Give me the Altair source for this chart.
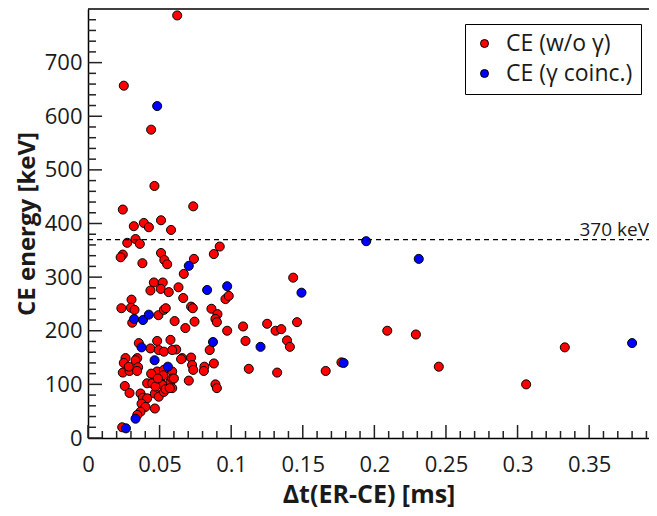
import altair as alt
import pandas as pd

# ---- data ----
red_x = [0.0623, 0.025, 0.0441, 0.0464, 0.0243, 0.0735, 0.032, 0.039, 0.0425, 0.051,
         0.058, 0.0274, 0.0332, 0.0362, 0.0243, 0.0228, 0.038, 0.051, 0.0533, 0.0553,
         0.074, 0.0669, 0.0879, 0.092, 0.1433, 0.046, 0.0522, 0.0436, 0.0508, 0.0564,
         0.0632, 0.0665, 0.096, 0.0983, 0.0304, 0.0233, 0.030, 0.0325, 0.0309, 0.0492,
         0.053, 0.0543, 0.0605, 0.072, 0.0732, 0.068, 0.0744, 0.0862, 0.0904, 0.089,
         0.090, 0.0972, 0.1083, 0.110, 0.1251, 0.131, 0.135, 0.146, 0.139, 0.141,
         0.085, 0.209, 0.229, 0.333, 0.0879, 0.0813, 0.0809, 0.1123, 0.1321, 0.166,
         0.177, 0.245, 0.306, 0.089, 0.090, 0.0704, 0.0658, 0.072, 0.0727, 0.0735,
         0.0616, 0.0576, 0.0483, 0.0436, 0.0355, 0.0494, 0.053, 0.0588, 0.0262, 0.0344,
         0.025, 0.0332, 0.035, 0.0243, 0.029, 0.0343, 0.0448, 0.0483, 0.053, 0.0588,
         0.0413, 0.0448, 0.0506, 0.0576, 0.0257, 0.029, 0.0367, 0.0383, 0.0413, 0.0467,
         0.0494, 0.053, 0.0374, 0.0401, 0.0467, 0.0367, 0.0344, 0.0239, 0.0588, 0.0588,
         0.060, 0.0518, 0.0541, 0.0571, 0.0471, 0.065, 0.0285, 0.0441, 0.0525, 0.0488]
red_y = [788, 657, 575, 470, 426, 432, 395, 401, 393, 406,
         388, 364, 371, 362, 342, 337, 326, 345, 332, 324,
         334, 306, 343, 357, 299, 290, 290, 275, 278, 272,
         281, 261, 259, 265, 258, 242, 243, 239, 215, 229,
         239, 242, 218, 245, 242, 205, 217, 241, 231, 222,
         216, 200, 208, 181, 213, 200, 203, 216, 182, 170,
         164, 200, 193, 169, 139, 133, 125, 129, 122, 125,
         141, 133, 100, 100, 93, 107, 149, 150, 136, 127,
         165, 183, 181, 167, 177, 164, 161, 164, 149, 149,
         140, 145, 132, 122, 125, 125, 119, 124, 127, 124,
         102, 102, 105, 105, 97, 84, 83, 75, 74, 83,
         77, 86, 64, 58, 55, 49, 43, 20, 111, 93,
         111, 99, 91, 93, 96, 147, 133, 120, 117, 111]

blue_x = [0.0483, 0.0704, 0.1943, 0.231, 0.0832, 0.0972, 0.1491, 0.0322, 0.0384, 0.0425,
          0.0873, 0.1205, 0.1785, 0.0374, 0.0465, 0.0558, 0.0332, 0.0265, 0.380]
blue_y = [619, 321, 367, 334, 276, 283, 271, 222, 220, 230,
          179, 170, 140, 169, 145, 133, 36, 18, 177]

series_names = ["CE (w/o γ)", "CE (γ coinc.)"]
series_colors = ["#ff0000", "#0000ff"]

threshold_value = [370]
threshold_label = ["370 keV"]

x_domain = [0, 0.3918]
y_domain = [0, 800]
x_major = [0, 0.05, 0.1, 0.15, 0.2, 0.25, 0.3, 0.35]
x_minor = [0.01, 0.02, 0.03, 0.04, 0.06, 0.07, 0.08, 0.09, 0.11, 0.12, 0.13, 0.14,
           0.16, 0.17, 0.18, 0.19, 0.21, 0.22, 0.23, 0.24, 0.26, 0.27, 0.28, 0.29,
           0.31, 0.32, 0.33, 0.34, 0.36, 0.37, 0.38, 0.39]
y_major = [0, 100, 200, 300, 400, 500, 600, 700]
y_minor = [20, 40, 60, 80, 120, 140, 160, 180, 220, 240, 260, 280, 320, 340, 360, 380,
           420, 440, 460, 480, 520, 540, 560, 580, 620, 640, 660, 680, 720, 740, 760, 780]

# ---- layout / style ----
W, H = 561, 429
FONT = "Open Sans"
TXT = "#1a1a1a"

xscale = alt.Scale(domain=x_domain, nice=False, zero=False)
yscale = alt.Scale(domain=y_domain, nice=False, zero=False)

points = pd.DataFrame({
    "x": red_x + blue_x,
    "y": red_y + blue_y,
    "series": [series_names[0]] * len(red_x) + [series_names[1]] * len(blue_x),
})

xaxis = alt.Axis(values=x_major, format="~g", tickSize=0, grid=False,
                 labelFontSize=22, labelFont=FONT, labelColor=TXT,
                 labelPadding=33, labelBaseline="alphabetic", labelFlush=False,
                 labelOverlap=False, domainColor="black", domainWidth=1.5,
                 title="Δt(ER-CE) [ms]", titleFont=FONT, titleFontSize=25,
                 titleFontWeight="bold", titleColor=TXT, titleY=64,
                 titleBaseline="alphabetic")
yaxis = alt.Axis(values=y_major, tickSize=0, grid=False,
                 labelFontSize=22, labelFont=FONT, labelColor=TXT,
                 labelPadding=6, labelFlush=False, labelOverlap=False,
                 domainColor="black", domainWidth=1.5,
                 title="CE energy [keV]", titleFont=FONT, titleFontSize=24,
                 titleFontWeight="bold", titleColor=TXT, titleX=-61,
                 titleBaseline="middle")

top_border = alt.Chart(pd.DataFrame({"v": [y_domain[1]]})).mark_rule(
    color="black", strokeWidth=1.5).encode(
    y=alt.Y("v:Q", scale=yscale, axis=yaxis), x=alt.value(0), x2=alt.value(W))

def xticks(vals, length):
    return alt.Chart(pd.DataFrame({"v": vals})).mark_rule(
        color="#222222", strokeWidth=1.5).encode(
        x=alt.X("v:Q", scale=xscale, axis=xaxis),
        y=alt.value(H), y2=alt.value(H - length))

def yticks(vals, length):
    return alt.Chart(pd.DataFrame({"v": vals})).mark_rule(
        color="#222222", strokeWidth=1.5).encode(
        y=alt.Y("v:Q", scale=yscale, axis=yaxis),
        x=alt.value(0), x2=alt.value(length))

thr_df = pd.DataFrame({"e": threshold_value, "label": threshold_label})
thr_line = alt.Chart(thr_df).mark_rule(color="black", strokeWidth=1.2,
                                       strokeDash=[5, 4]).encode(
    y=alt.Y("e:Q", scale=yscale, axis=yaxis), x=alt.value(0), x2=alt.value(W))
thr_text = alt.Chart(thr_df).mark_text(align="right", baseline="alphabetic", dy=-4,
                                       fontSize=19, font=FONT, color=TXT).encode(
    y=alt.Y("e:Q", scale=yscale, axis=yaxis), x=alt.value(W), text="label:N")

pts = alt.Chart(points).mark_point(filled=True, shape="circle", size=82,
                                   stroke="black", strokeWidth=1, opacity=1).encode(
    x=alt.X("x:Q", scale=xscale, axis=xaxis),
    y=alt.Y("y:Q", scale=yscale, axis=yaxis),
    color=alt.Color("series:N",
                    scale=alt.Scale(domain=series_names, range=series_colors),
                    legend=alt.Legend(title=None, orient="none", legendX=377, legendY=15,
                                      padding=8, strokeColor="black", fillColor="white",
                                      labelFontSize=23, labelFont=FONT, labelColor=TXT,
                                      symbolType="circle", symbolSize=64,
                                      symbolStrokeColor="black", symbolStrokeWidth=1,
                                      symbolOpacity=1, rowPadding=6, labelOffset=10)),
)

chart = alt.layer(
    pts, top_border,
    xticks(x_major, 13), xticks(x_minor, 7),
    yticks(y_major, 14), yticks(y_minor, 8),
    thr_line, thr_text,
).properties(
    width=W, height=H,
    padding={"left": 80, "top": 1, "right": 0, "bottom": 70},
    autosize=alt.AutoSizeParams(type="none"),
    background="white",
).configure_view(stroke=None)

chart.save("out.html", embed_options={"renderer": "svg", "actions": False})
